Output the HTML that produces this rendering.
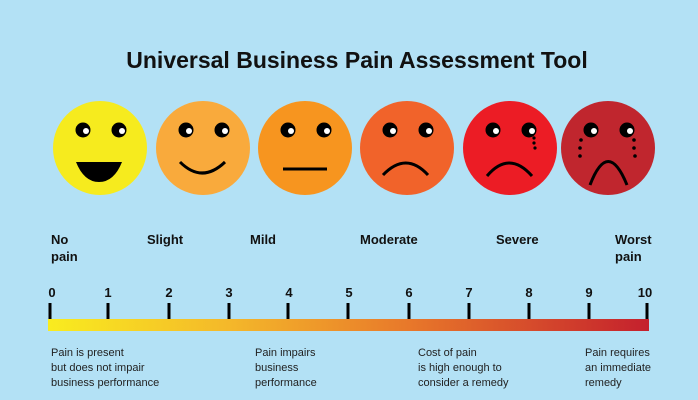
<!DOCTYPE html>
<html><head><style>
body{margin:0;width:698px;height:400px;background:#b3e1f5;overflow:hidden;font-family:"Liberation Sans",Arial,sans-serif;position:relative}
.t{position:absolute;white-space:nowrap}
.b{font-weight:bold;font-size:13px;color:#111;line-height:17px}
.s{font-size:11px;color:#222;line-height:15px}
</style></head><body>
<div class="t" style="left:0;width:714px;text-align:center;top:47px;font-size:23px;font-weight:bold;color:#111">Universal Business Pain Assessment Tool</div>
<svg width="698" height="400" style="position:absolute;left:0;top:0">
<defs>
<linearGradient id="g" x1="0" x2="1"><stop offset="0" stop-color="#f9ec1f"/><stop offset="0.3" stop-color="#f4b82a"/><stop offset="0.6" stop-color="#e8782a"/><stop offset="1" stop-color="#c4202d"/></linearGradient>
<g id="eyes"><circle cx="-17" cy="-18" r="7.5" fill="#000"/><circle cx="-14" cy="-17" r="3" fill="#fff"/><circle cx="19" cy="-18" r="7.5" fill="#000"/><circle cx="22" cy="-17" r="3" fill="#fff"/></g>
</defs>
<g transform="translate(100,148)"><circle r="47" fill="#f6eb1e"/><use href="#eyes"/><path d="M-24 14 L22 14 Q14 34 -1 34 Q-16 34 -24 14Z" fill="#000"/></g>
<g transform="translate(203,148)"><circle r="47" fill="#f9aa3c"/><use href="#eyes"/><path d="M-23 14 Q-1 36 22 14" stroke="#000" stroke-width="3" fill="none"/></g>
<g transform="translate(305,148)"><circle r="47" fill="#f7951f"/><use href="#eyes"/><path d="M-22 21 L22 21" stroke="#000" stroke-width="3"/></g>
<g transform="translate(407,148)"><circle r="47" fill="#f1632a"/><use href="#eyes"/><path d="M-24 27 Q-1 3 21 27" stroke="#000" stroke-width="3" fill="none"/></g>
<g transform="translate(510,148)"><circle r="47" fill="#ec1c25"/><use href="#eyes"/><path d="M-23 28 Q-1 2 22 28" stroke="#000" stroke-width="3" fill="none"/><circle cx="24" cy="-10" r="1.6"/><circle cx="24" cy="-5" r="1.6"/><circle cx="25" cy="0" r="1.6"/></g>
<g transform="translate(608,148)"><circle r="47" fill="#c0262e"/><use href="#eyes"/><path d="M-18 37 Q0 -10 19 37" stroke="#000" stroke-width="3" fill="none"/><circle cx="-27" cy="-8" r="1.8"/><circle cx="-28" cy="0" r="1.8"/><circle cx="-28" cy="8" r="1.8"/><circle cx="26" cy="-8" r="1.8"/><circle cx="26" cy="0" r="1.8"/><circle cx="27" cy="8" r="1.8"/></g>
<rect x="48" y="319" width="601" height="12" fill="url(#g)"/>
<g stroke="#000" stroke-width="3">
<line x1="50" y1="303" x2="50" y2="319"/><line x1="108" y1="303" x2="108" y2="319"/><line x1="169" y1="303" x2="169" y2="319"/><line x1="229" y1="303" x2="229" y2="319"/><line x1="288" y1="303" x2="288" y2="319"/><line x1="348" y1="303" x2="348" y2="319"/><line x1="409" y1="303" x2="409" y2="319"/><line x1="469" y1="303" x2="469" y2="319"/><line x1="529" y1="303" x2="529" y2="319"/><line x1="589" y1="303" x2="589" y2="319"/><line x1="647" y1="303" x2="647" y2="319"/>
</g>
<g font-family="Liberation Sans,Arial,sans-serif" font-weight="bold" font-size="13" text-anchor="middle" fill="#111">
<text x="52" y="297">0</text><text x="108" y="297">1</text><text x="169" y="297">2</text><text x="229" y="297">3</text><text x="289" y="297">4</text><text x="349" y="297">5</text><text x="409" y="297">6</text><text x="469" y="297">7</text><text x="529" y="297">8</text><text x="589" y="297">9</text><text x="645" y="297">10</text>
</g>
</svg>
<div class="t b" style="left:51px;top:231px">No<br>pain</div>
<div class="t b" style="left:147px;top:231px">Slight</div>
<div class="t b" style="left:250px;top:231px">Mild</div>
<div class="t b" style="left:360px;top:231px">Moderate</div>
<div class="t b" style="left:496px;top:231px">Severe</div>
<div class="t b" style="left:615px;top:231px">Worst<br>pain</div>
<div class="t s" style="left:51px;top:346px">Pain is present<br>but does not impair<br>business performance</div>
<div class="t s" style="left:255px;top:346px">Pain impairs<br>business<br>performance</div>
<div class="t s" style="left:418px;top:346px">Cost of pain<br>is high enough to<br>consider a remedy</div>
<div class="t s" style="left:585px;top:346px">Pain requires<br>an immediate<br>remedy</div>
</body></html>
